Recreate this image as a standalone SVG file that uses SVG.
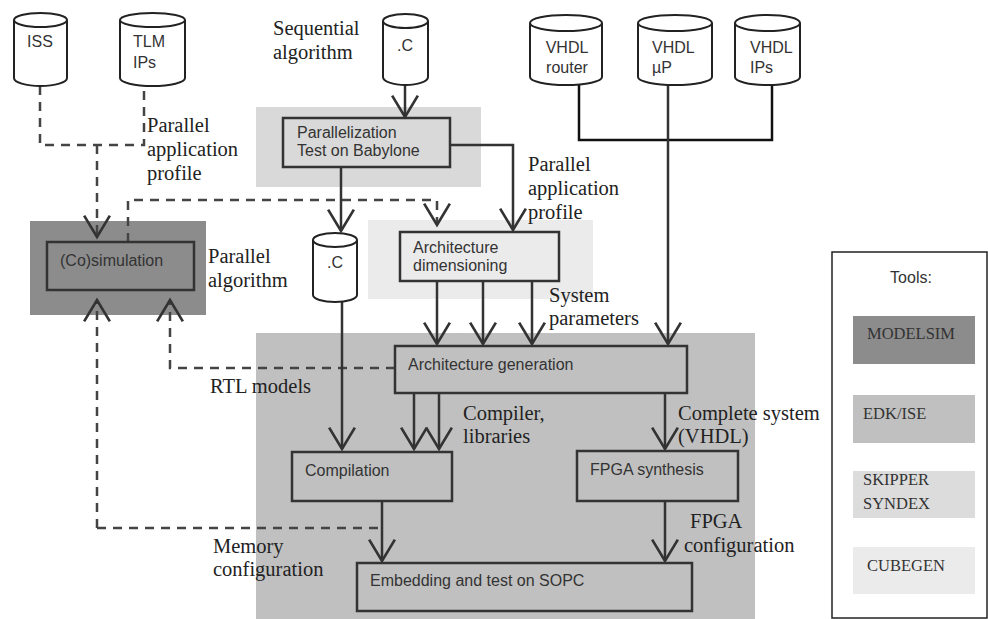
<svg xmlns="http://www.w3.org/2000/svg" width="988" height="619" viewBox="0 0 988 619">
<style>
.sans{font-family:"Liberation Sans",Arial,sans-serif;font-size:16px;fill:#333}
.cyl{font-family:"Liberation Sans",Arial,sans-serif;font-size:16px;fill:#333}
.ser{font-family:"Liberation Serif","Times New Roman",serif;font-size:20.5px;fill:#222}
.leg{font-family:"Liberation Serif","Times New Roman",serif;font-size:16.5px;fill:#333}
.box{fill:none;stroke:#333;stroke-width:2.5}
.cy{fill:#fff;stroke:#222;stroke-width:2}
.ln{fill:none;stroke:#333;stroke-width:2.5}
.blk{fill:none;stroke:#111;stroke-width:2.5}
.dash{fill:none;stroke:#444;stroke-width:2.5;stroke-dasharray:9 7}
</style>
<defs>
<marker id="v" markerUnits="userSpaceOnUse" markerWidth="30" markerHeight="30" viewBox="-22 -14 24 28" refX="0" refY="0" orient="auto" overflow="visible">
<path d="M-20,-12 L0,0 L-20,12" fill="none" stroke="#333" stroke-width="2.5"/>
</marker>
</defs>
<rect width="988" height="619" fill="#fff"/>
<!-- regions -->
<g id="regions">
<rect x="256" y="107" width="225" height="80" fill="#d9d9d9"/>
<rect x="368" y="220" width="225" height="79" fill="#ebebeb"/>
<rect x="30" y="221" width="176" height="94" fill="#8c8c8c"/>
<rect x="256" y="333" width="499" height="286" fill="#c0c0c0"/>
</g>
<!-- connectors -->
<g id="connectors">
<path class="dash" d="M40,86 V145 H144 V86"/>
<path class="dash" d="M97,145 V237" marker-end="url(#v)"/>
<path class="dash" d="M128,242 V200 H437 V225" marker-end="url(#v)"/>
<path class="dash" d="M97,528 V300" marker-end="url(#v)"/>
<path class="dash" d="M97,528 H382"/>
<path class="dash" d="M395,368 H170 V300" marker-end="url(#v)"/>
<path class="ln" d="M405,85 V117" marker-end="url(#v)"/>
<path class="ln" d="M450,145 H513 V230" marker-end="url(#v)"/>
<path class="ln" d="M341,167 V231" marker-end="url(#v)"/>
<path class="ln" d="M342,302 V449" marker-end="url(#v)"/>
<path class="blk" d="M579,85 V140 H772 V85"/>
<path class="ln" d="M668,85 V344" marker-end="url(#v)"/>
<path class="ln" d="M437,281 V344" marker-end="url(#v)"/>
<path class="ln" d="M483,281 V344" marker-end="url(#v)"/>
<path class="ln" d="M532,281 V344" marker-end="url(#v)"/>
<path class="ln" d="M414,393 V449" marker-end="url(#v)"/>
<path class="ln" d="M439,393 V449" marker-end="url(#v)"/>
<path class="ln" d="M665,393 V449" marker-end="url(#v)"/>
<path class="ln" d="M382,501 V561" marker-end="url(#v)"/>
<path class="ln" d="M665,501 V561" marker-end="url(#v)"/>
</g>
<!-- cylinders -->
<g id="iss">
<path class="cy" d="M14,20 V78 A26.5,8 0 0 0 67,78 V20"/>
<ellipse class="cy" cx="40.5" cy="20" rx="26.5" ry="7"/>
<text class="cyl" x="40" y="47" text-anchor="middle">ISS</text>
</g>
<g id="tlm">
<path class="cy" d="M120,20 V78 A32.5,8 0 0 0 185,78 V20"/>
<ellipse class="cy" cx="152.5" cy="20" rx="32.5" ry="7"/>
<text class="cyl" x="133" y="47">TLM</text>
<text class="cyl" x="133" y="68">IPs</text>
</g>
<g id="seqc">
<path class="cy" d="M383,21 V77 A22.5,8 0 0 0 428,77 V21"/>
<ellipse class="cy" cx="405.5" cy="21" rx="22.5" ry="7"/>
<text class="cyl" x="405" y="51" text-anchor="middle">.C</text>
</g>
<g id="vhdlrouter">
<path class="cy" d="M530,23 V77 A36,8 0 0 0 602,77 V23"/>
<ellipse class="cy" cx="566" cy="23" rx="36" ry="8"/>
<text class="cyl" x="567" y="53" text-anchor="middle">VHDL</text>
<text class="cyl" x="567" y="73" text-anchor="middle">router</text>
</g>
<g id="vhdlup">
<path class="cy" d="M638,23 V77 A37,8 0 0 0 712,77 V23"/>
<ellipse class="cy" cx="675" cy="23" rx="37" ry="8"/>
<text class="cyl" x="652" y="53">VHDL</text>
<text class="cyl" x="652" y="73">µP</text>
</g>
<g id="vhdlips">
<path class="cy" d="M735,23 V77 A32.5,8 0 0 0 800,77 V23"/>
<ellipse class="cy" cx="767.5" cy="23" rx="32.5" ry="8"/>
<text class="cyl" x="750" y="53">VHDL</text>
<text class="cyl" x="750" y="73">IPs</text>
</g>
<g id="parc">
<path class="cy" d="M313,240 V295 A22,7 0 0 0 357,295 V240"/>
<ellipse class="cy" cx="335" cy="240" rx="22" ry="7"/>
<text class="cyl" x="335" y="268" text-anchor="middle">.C</text>
</g>
<!-- process boxes -->
<g id="parallelization">
<rect class="box" x="283" y="118" width="167" height="49"/>
<text class="sans" x="297" y="138">Parallelization</text>
<text class="sans" x="297" y="156">Test on Babylone</text>
</g>
<g id="archdim">
<rect class="box" x="400" y="232" width="159" height="49"/>
<text class="sans" x="413" y="253">Architecture</text>
<text class="sans" x="413" y="271">dimensioning</text>
</g>
<g id="cosim">
<rect class="box" x="47" y="242" width="147" height="48"/>
<text class="sans" x="60" y="266">(Co)simulation</text>
</g>
<g id="archgen">
<rect class="box" x="395" y="346" width="292" height="47"/>
<text class="sans" x="408" y="370">Architecture generation</text>
</g>
<g id="compilation">
<rect class="box" x="292" y="452" width="160" height="49"/>
<text class="sans" x="305" y="476">Compilation</text>
</g>
<g id="fpgasynth">
<rect class="box" x="577" y="451" width="161" height="50"/>
<text class="sans" x="590" y="475">FPGA synthesis</text>
</g>
<g id="embedding">
<rect class="box" x="357" y="563" width="335" height="48"/>
<text class="sans" x="370" y="586">Embedding and test on SOPC</text>
</g>
<!-- labels -->
<g id="labels">
<text class="ser" x="273" y="35">Sequential</text>
<text class="ser" x="273" y="59">algorithm</text>
<text class="ser" x="147" y="132">Parallel</text>
<text class="ser" x="147" y="156">application</text>
<text class="ser" x="147" y="180">profile</text>
<text class="ser" x="528" y="171">Parallel</text>
<text class="ser" x="528" y="195">application</text>
<text class="ser" x="528" y="219">profile</text>
<text class="ser" x="208" y="263">Parallel</text>
<text class="ser" x="208" y="287">algorithm</text>
<text class="ser" x="549" y="302">System</text>
<text class="ser" x="549" y="325">parameters</text>
<text class="ser" x="210" y="393">RTL models</text>
<text class="ser" x="463" y="420">Compiler,</text>
<text class="ser" x="463" y="443">libraries</text>
<text class="ser" x="678" y="420">Complete system</text>
<text class="ser" x="678" y="443">(VHDL)</text>
<text class="ser" x="690" y="528">FPGA</text>
<text class="ser" x="684" y="552">configuration</text>
<text class="ser" x="213" y="553">Memory</text>
<text class="ser" x="213" y="576">configuration</text>
</g>
<!-- legend -->
<g id="legend">
<rect x="832" y="252" width="155" height="366" fill="#fff" stroke="#222" stroke-width="1.5"/>
<text x="911" y="283" text-anchor="middle" font-family="Liberation Sans, Arial, sans-serif" font-size="16" fill="#333">Tools:</text>
<rect x="853" y="316" width="122" height="48" fill="#8c8c8c"/>
<text class="leg" x="867" y="339">MODELSIM</text>
<rect x="853" y="395" width="122" height="48" fill="#c0c0c0"/>
<text class="leg" x="863" y="419">EDK/ISE</text>
<rect x="853" y="471" width="122" height="47" fill="#dcdcdc"/>
<text class="leg" x="863" y="485">SKIPPER</text>
<text class="leg" x="863" y="509">SYNDEX</text>
<rect x="853" y="547" width="122" height="47" fill="#ebebeb"/>
<text class="leg" x="867" y="571">CUBEGEN</text>
</g>
</svg>
